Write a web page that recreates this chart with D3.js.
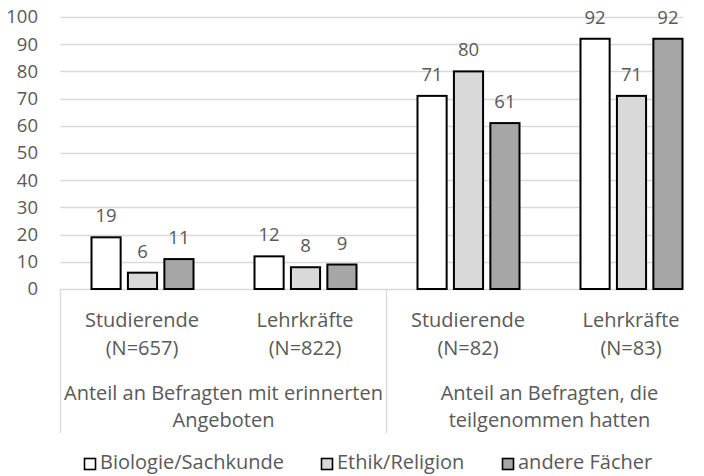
<!DOCTYPE html>
<html>
<head>
<meta charset="utf-8">
<script src="https://cdn.jsdelivr.net/npm/d3@7"></script>
<style>
  body { margin: 0; background: #fff; }
  text { font-family: "Open Sans", sans-serif; fill: #595959; }
</style>
</head>
<body>
<svg id="chart" width="704" height="476"></svg>
<script>
// data
var groups = ["Studierende|(N=657)", "Lehrkräfte|(N=822)", "Studierende|(N=82)", "Lehrkräfte|(N=83)"];
var outer = ["Anteil an Befragten mit erinnerten|Angeboten", "Anteil an Befragten, die|teilgenommen hatten"];
var series = ["Biologie/Sachkunde", "Ethik/Religion", "andere Fächer"];
var bio = [19, 12, 71, 92];
var ethik = [6, 8, 80, 71];
var andere = [11, 9, 61, 92];
var ticks = [0, 10, 20, 30, 40, 50, 60, 70, 80, 90, 100];
var colors = ["#ffffff", "#d9d9d9", "#a6a6a6"];

var values = [bio, ethik, andere];
var svg = d3.select("svg#chart");

var numSize = 18.5, txtSize = 20;

var x0 = d3.scaleBand().domain(groups).range([60.5, 712.5]).paddingInner(0).paddingOuter(0);
var x1 = d3.scaleBand().domain(series).range([31, 133]).paddingInner(0.2);
var y = d3.scaleLinear().domain([0, 100]).range([289, 17]);

// gridlines
svg.append("g")
  .selectAll("line")
  .data(ticks)
  .enter()
  .append("line")
  .attr("x1", 60.5)
  .attr("x2", 683)
  .attr("y1", d => Math.round(y(d)) + 0.5)
  .attr("y2", d => Math.round(y(d)) + 0.5)
  .attr("stroke", "#d9d9d9")
  .attr("stroke-width", 1.3);

// y tick labels
svg.append("g")
  .selectAll("text")
  .data(ticks)
  .enter()
  .append("text")
  .attr("x", 38)
  .attr("y", d => y(d))
  .attr("dy", "0.35em")
  .attr("text-anchor", "end")
  .attr("font-size", numSize)
  .text(d => d);

// category dividers
[0, 2].forEach(function (i) {
  var xx = x0(groups[i]);
  svg.append("line")
    .attr("x1", xx).attr("x2", xx)
    .attr("y1", 289).attr("y2", 433)
    .attr("stroke", "#d9d9d9")
    .attr("stroke-width", 1.3);
});

// bars
series.forEach(function (s, si) {
  var g = svg.append("g");
  g.selectAll("rect")
    .data(values[si])
    .enter()
    .append("rect")
    .attr("x", (d, i) => x0(groups[i]) + x1(s))
    .attr("y", d => y(d))
    .attr("width", x1.bandwidth())
    .attr("height", d => y(0) - y(d))
    .attr("fill", colors[si])
    .attr("stroke", "#000")
    .attr("stroke-width", 2);

  g.selectAll("text")
    .data(values[si])
    .enter()
    .append("text")
    .attr("x", (d, i) => x0(groups[i]) + x1(s) + x1.bandwidth() / 2)
    .attr("y", d => y(d) - 15)
    .attr("text-anchor", "middle")
    .attr("font-size", numSize)
    .text(d => d);
});

// inner category labels
groups.forEach(function (gname) {
  var parts = gname.split("|");
  var cx = x0(gname) + x0.bandwidth() / 2;
  parts.forEach(function (p, k) {
    svg.append("text")
      .attr("x", cx)
      .attr("y", 327 + k * 28)
      .attr("text-anchor", "middle")
      .attr("font-size", txtSize)
      .text(p);
  });
});

// outer category labels
outer.forEach(function (o, oi) {
  var cx = x0(groups[oi * 2]) + x0.bandwidth();
  o.split("|").forEach(function (p, k) {
    svg.append("text")
      .attr("x", cx)
      .attr("y", 400 + k * 27)
      .attr("text-anchor", "middle")
      .attr("font-size", txtSize)
      .text(p);
  });
});

// legend
var legX = [84, 321, 502];
series.forEach(function (s, si) {
  svg.append("rect")
    .attr("x", legX[si] + 0.5)
    .attr("y", 458.5)
    .attr("width", 11)
    .attr("height", 11)
    .attr("fill", colors[si])
    .attr("stroke", "#000")
    .attr("stroke-width", 1.6);
  svg.append("text")
    .attr("x", legX[si] + 16)
    .attr("y", 469)
    .attr("font-size", txtSize)
    .text(s);
});
</script>
</body>
</html>
